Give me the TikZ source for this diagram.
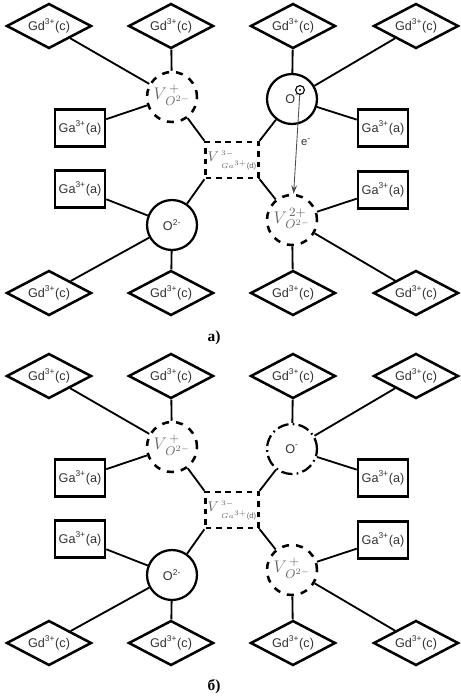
\documentclass[tikz,border=0pt]{standalone}
\usepackage{fontspec}
\setsansfont{Liberation Sans}
\newfontfamily\capfont{Liberation Serif}
\usepackage{xcolor}
\usepackage{tikz}
\usetikzlibrary{shapes, arrows.meta}

\newcommand{\vaclabel}[1]{$V^{\,#1}_{\,\mathstrut O^{2-}}$}
\newcommand{\galabel}{{\fontsize{10}{10}\selectfont$V$}\kern1.5pt{\fontsize{5.5}{7}\selectfont\begin{tabular}{@{}l@{}}$3-$\\[2pt]$Ga^{3+}$\textsf{(d)}\end{tabular}}}

\begin{document}
\begin{tikzpicture}[
    gdnode/.style={diamond, draw, line width=1.8pt, minimum width=2.125cm, minimum height=1.125cm, inner sep=0pt, aspect=1.9, text=black!80, font=\sffamily\fontsize{9}{9}\selectfont},
    ganode/.style={rectangle, draw, line width=1.8pt, minimum width=1.25cm, minimum height=0.925cm, inner sep=0pt, text=black!80, font=\sffamily\fontsize{9}{9}\selectfont},
    ionnode/.style={circle, draw, line width=1.6pt, minimum size=1.25cm, inner sep=0pt, text=black!80, font=\sffamily\fontsize{9}{9}\selectfont},
    vacnode/.style={circle, draw, line width=1.8pt, dash pattern=on 5pt off 5pt, minimum size=1.25cm, inner sep=0pt, text=black!60, font=\fontsize{13}{13}\selectfont},
    holenode/.style={circle, draw, line width=1.6pt, dash pattern=on 8pt off 3pt on 1.2pt off 3pt, minimum size=1.25cm, inner sep=0pt, text=black!80, font=\sffamily\fontsize{9}{9}\selectfont},
    gavac/.style={rectangle, draw, line width=1.8pt, dash pattern=on 4pt off 3.5pt, minimum width=1.3cm, minimum height=0.9cm, inner sep=1.5pt, text=black!60},
    line/.style={line width=1.3pt},
    earrow/.style={draw=black!70, line width=0.6pt, -{Stealth[length=6pt, width=4pt]}},
    caption/.style={font=\capfont\bfseries\fontsize{11}{11}\selectfont, anchor=base},
  ]

    \useasboundingbox (0, 0) rectangle (11.525, -17.4);

    % a) Gd(c) sites
    \node[gdnode] (agd1) at (1.225, -0.65) {Gd\textsuperscript{3+}(c)};
    \node[gdnode] (agd2) at (4.275, -0.65) {Gd\textsuperscript{3+}(c)};
    \node[gdnode] (agd3) at (7.325, -0.65) {Gd\textsuperscript{3+}(c)};
    \node[gdnode] (agd4) at (10.4, -0.65) {Gd\textsuperscript{3+}(c)};
    \node[gdnode] (agd5) at (1.225, -7.325) {Gd\textsuperscript{3+}(c)};
    \node[gdnode] (agd6) at (4.275, -7.325) {Gd\textsuperscript{3+}(c)};
    \node[gdnode] (agd7) at (7.325, -7.325) {Gd\textsuperscript{3+}(c)};
    \node[gdnode] (agd8) at (10.4, -7.325) {Gd\textsuperscript{3+}(c)};

    % a) Ga(a) sites
    \node[ganode] (aga1) at (2.0, -3.2) {Ga\textsuperscript{3+}(a)};
    \node[ganode] (aga2) at (9.575, -3.2) {Ga\textsuperscript{3+}(a)};
    \node[ganode] (aga3) at (2.0, -4.725) {Ga\textsuperscript{3+}(a)};
    \node[ganode] (aga4) at (9.575, -4.75) {Ga\textsuperscript{3+}(a)};

    % a) defects and ions
    \node[vacnode] (avo1) at (4.3, -2.425) {\vaclabel{+}};
    \node[ionnode] (aom) at (7.3, -2.475) {O\textsuperscript{-}\hspace{0.3cm}};
    \node[circle, draw, line width=0.8pt, minimum size=0.22cm, inner sep=0pt] (aeh) at (7.5, -2.25) {};
    \fill (aeh) circle (0.8pt);
    \node[gavac] (avga) at (5.8, -4.0) {\galabel};
    \node[ionnode] (ao2) at (4.3, -5.625) {O\textsuperscript{2-}};
    \node[vacnode] (avo2) at (7.3, -5.5) {\vaclabel{2+}};
    \node[text=black!80, font=\sffamily\fontsize{8}{8}\selectfont] (ael) at (7.65, -3.55) {e\textsuperscript{-}};

    \draw[line] (agd1) -- (avo1);
    \draw[line] (agd2) -- (avo1);
    \draw[line] (aga1) -- (avo1);
    \draw[line] (avo1) -- (avga.north west);
    \draw[line] (agd3) -- (aom);
    \draw[line] (agd4) -- (aom);
    \draw[line] (aga2) -- (aom);
    \draw[line] (aom) -- (avga.north east);
    \draw[line] (aga3) -- (ao2);
    \draw[line] (agd5) -- (ao2);
    \draw[line] (agd6) -- (ao2);
    \draw[line] (ao2) -- (avga.south west);
    \draw[line] (aga4) -- (avo2);
    \draw[line] (agd7) -- (avo2);
    \draw[line] (agd8) -- (avo2);
    \draw[line] (avo2) -- (avga.south east);
    \draw[earrow] (aeh) -- (avo2);

    \node[caption] (capa) at (5.35, -8.525) {а)};

    % b) Gd(c) sites
    \node[gdnode] (bgd1) at (1.225, -9.4) {Gd\textsuperscript{3+}(c)};
    \node[gdnode] (bgd2) at (4.275, -9.4) {Gd\textsuperscript{3+}(c)};
    \node[gdnode] (bgd3) at (7.325, -9.4) {Gd\textsuperscript{3+}(c)};
    \node[gdnode] (bgd4) at (10.4, -9.4) {Gd\textsuperscript{3+}(c)};
    \node[gdnode] (bgd5) at (1.225, -16.075) {Gd\textsuperscript{3+}(c)};
    \node[gdnode] (bgd6) at (4.275, -16.075) {Gd\textsuperscript{3+}(c)};
    \node[gdnode] (bgd7) at (7.325, -16.075) {Gd\textsuperscript{3+}(c)};
    \node[gdnode] (bgd8) at (10.4, -16.075) {Gd\textsuperscript{3+}(c)};

    % b) Ga(a) sites
    \node[ganode] (bga1) at (2.0, -11.95) {Ga\textsuperscript{3+}(a)};
    \node[ganode] (bga2) at (9.575, -11.95) {Ga\textsuperscript{3+}(a)};
    \node[ganode] (bga3) at (2.0, -13.475) {Ga\textsuperscript{3+}(a)};
    \node[ganode] (bga4) at (9.575, -13.5) {Ga\textsuperscript{3+}(a)};

    % b) defects and ions
    \node[vacnode] (bvo1) at (4.3, -11.175) {\vaclabel{+}};
    \node[holenode] (bom) at (7.3, -11.225) {O\textsuperscript{-}};
    \node[gavac] (bvga) at (5.8, -12.75) {\galabel};
    \node[ionnode] (bo2) at (4.3, -14.375) {O\textsuperscript{2-}};
    \node[vacnode] (bvo2) at (7.3, -14.25) {\vaclabel{+}};

    \draw[line] (bgd1) -- (bvo1);
    \draw[line] (bgd2) -- (bvo1);
    \draw[line] (bga1) -- (bvo1);
    \draw[line] (bvo1) -- (bvga.north west);
    \draw[line] (bgd3) -- (bom);
    \draw[line] (bgd4) -- (bom);
    \draw[line] (bga2) -- (bom);
    \draw[line] (bom) -- (bvga.north east);
    \draw[line] (bga3) -- (bo2);
    \draw[line] (bgd5) -- (bo2);
    \draw[line] (bgd6) -- (bo2);
    \draw[line] (bo2) -- (bvga.south west);
    \draw[line] (bga4) -- (bvo2);
    \draw[line] (bgd7) -- (bvo2);
    \draw[line] (bgd8) -- (bvo2);
    \draw[line] (bvo2) -- (bvga.south east);

    \node[caption] (capb) at (5.35, -17.25) {б)};

  \end{tikzpicture}
\end{document}
